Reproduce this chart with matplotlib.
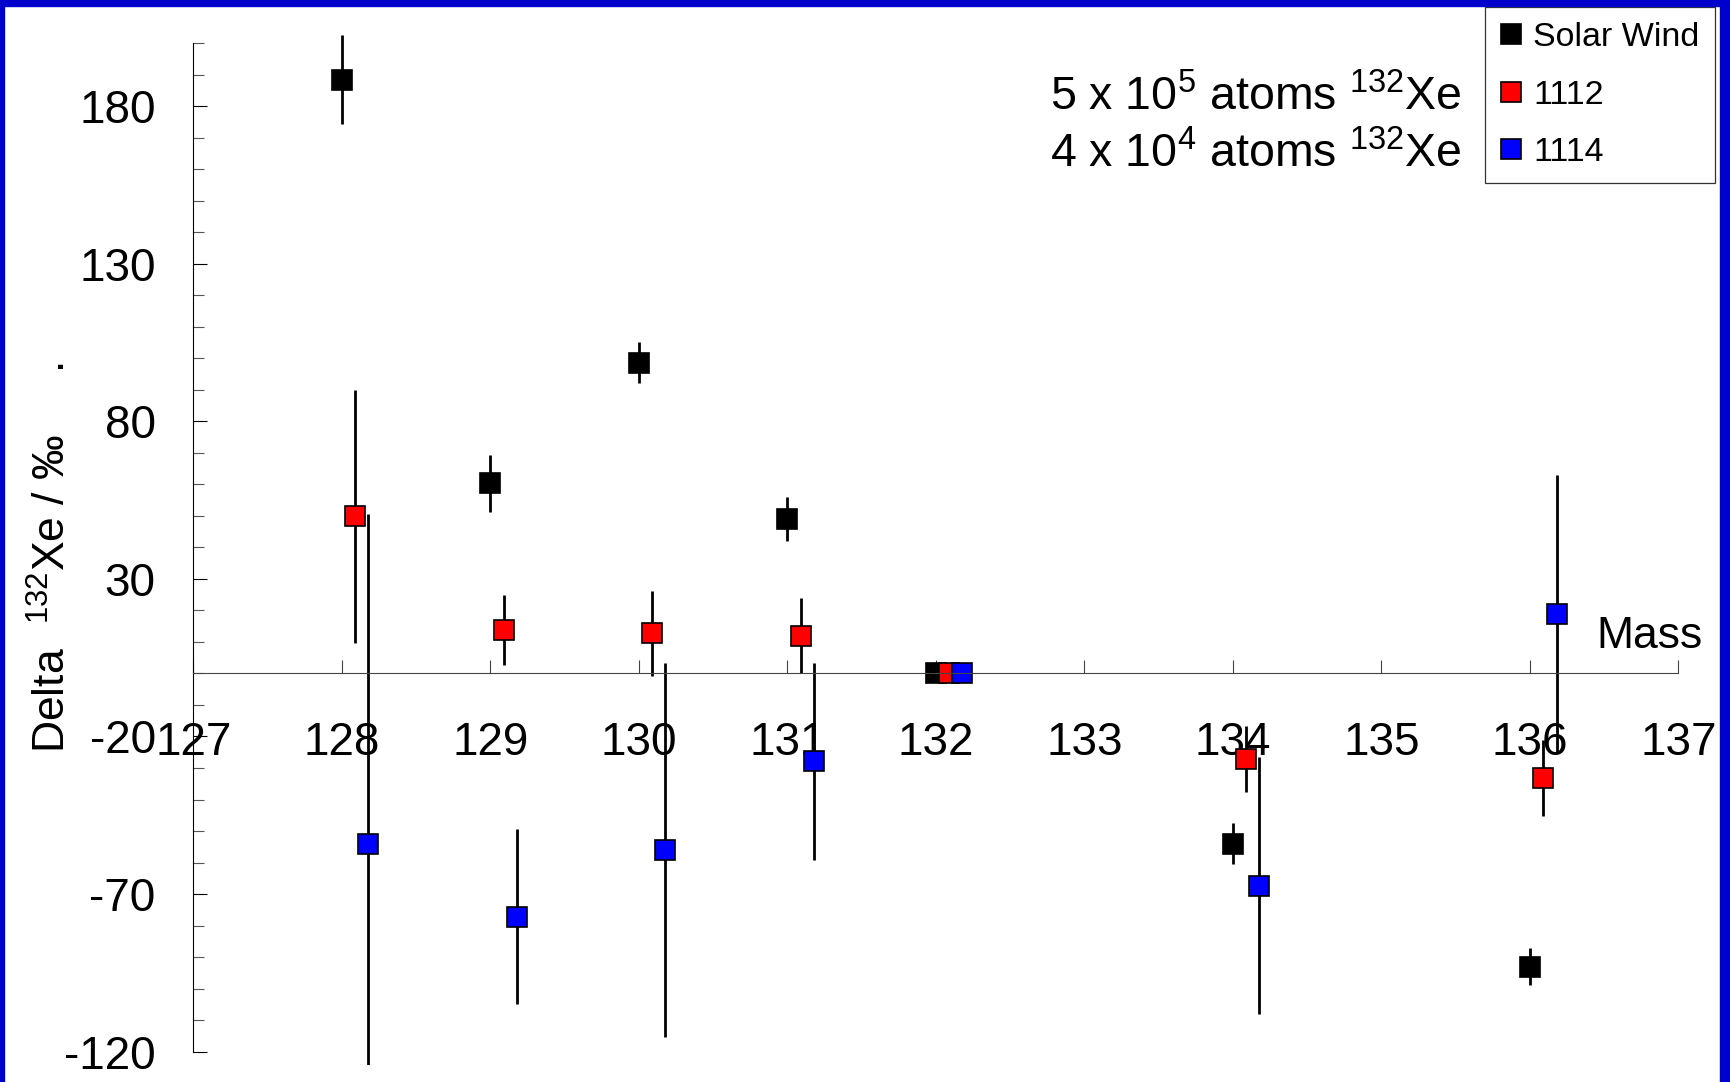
import matplotlib
matplotlib.use('Agg')
import matplotlib.pyplot as plt
from matplotlib.lines import Line2D
from matplotlib.patches import Rectangle
from matplotlib.ticker import FixedLocator

plt.rcParams['font.family'] = ['Liberation Sans', 'DejaVu Sans']
plt.rcParams['mathtext.fontset'] = 'custom'
plt.rcParams['mathtext.rm'] = 'Liberation Sans'
plt.rcParams['mathtext.it'] = 'Liberation Sans:italic'
plt.rcParams['mathtext.default'] = 'regular'
plt.rcParams['axes.unicode_minus'] = False

#-------------------------------------------------------------------------
# xenon isotope deltas (permil, relative to 132Xe)
#-------------------------------------------------------------------------
masses = [128, 129, 130, 131, 132, 134, 136]

solar_wind = [188.4, 60.3, 98.5, 49.1, 0.0, -54.1, -93.0]
solar_wind_err = [14.0, 9.0, 6.5, 7.0, 0.0, 6.5, 6.0]

xe_1112 = [49.8, 13.8, 12.7, 12.0, 0.0, -27.2, -33.1]
xe_1112_err = [40.0, 11.0, 13.5, 12.0, 0.0, 10.5, 12.0]

xe_1114 = [-54.1, -77.2, -55.9, -27.9, 0.0, -67.4, 19.0]
xe_1114_err = [104.6, 27.8, 59.3, 31.3, 0.0, 40.8, 44.0]

series_names = ['Solar Wind', '1112', '1114']
notes = ['5 x 10$^5$ atoms $^{132}$Xe', '4 x 10$^4$ atoms $^{132}$Xe']

W, H = 1730, 1082
fig = plt.figure(figsize=(W / 100, H / 100), dpi=100)
ax = fig.add_axes([0.1117, 0.0158, 0.8584, 0.9561])

series = [
    (solar_wind, solar_wind_err, 'black', 0.0),
    (xe_1112, xe_1112_err, '#ff0000', 0.09),
    (xe_1114, xe_1114_err, '#0000ff', 0.18),
]
handles = []
for (vals, errs, col, shift), name in zip(series, series_names):
    xs = [m + shift for m in masses]
    ax.errorbar(xs, vals, yerr=errs, fmt='s', ms=14.5, mfc=col, mec='black',
                mew=1.2, ecolor='black', elinewidth=2, capsize=0)
    handles.append(Line2D([], [], ls='none', marker='s', ms=14.5, mfc=col,
                          mec='black', mew=1.2, label=name))

ax.set_xlim(127, 137)
ax.set_ylim(-124.2, 204)

# axes: only a left spine and a mass axis through zero
for side in ['top', 'right']:
    ax.spines[side].set_visible(False)
ax.spines['left'].set_bounds(-120, 200)
ax.spines['left'].set_linewidth(0.8)
ax.spines['bottom'].set_position(('data', 0))
ax.spines['bottom'].set_bounds(127, 137)
ax.spines['bottom'].set_color('#444444')
ax.spines['bottom'].set_linewidth(0.8)

ax.set_xticks(range(127, 138))
ax.set_yticks(range(-120, 181, 50))
ax.yaxis.set_minor_locator(FixedLocator(range(-120, 201, 10)))
ax.tick_params(axis='x', direction='in', length=9.5, width=0.8, color='#444444',
               labelsize=33, pad=34)
ax.tick_params(axis='y', which='major', direction='in', length=10, width=0.8,
               labelsize=33, pad=27)
ax.tick_params(axis='y', which='minor', direction='in', length=8, width=0.8,
               color='#555555')

ax.text(136.45, 8, 'Mass', fontsize=32, va='baseline', ha='left')

fig.text(53 / W, 1 - 558 / H, 'Delta  $^{132}$Xe / \u2030     .', rotation=90,
         ha='center', va='center', fontsize=32)

for i, note in enumerate(notes):
    fig.text(1050 / W, 1 - (110 + 57 * i) / H, note, fontsize=33.5,
             ha='left', va='baseline')

leg = fig.legend(handles=handles, loc='upper right',
                 bbox_to_anchor=(1715 / W, 1 - 6.7 / H), borderaxespad=0,
                 fontsize=24.5, handlelength=0.6, handletextpad=0.37,
                 labelspacing=0.78, borderpad=0.45, fancybox=False,
                 framealpha=1, edgecolor='#333333')
leg.get_frame().set_linewidth(0.9)

# slide frame around the chart
blue = '#0000cc'
fig.patches.append(Rectangle((0, 1 - 6 / H), 1, 6 / H, transform=fig.transFigure,
                             color=blue, zorder=10))
fig.patches.append(Rectangle((0, 0), 4 / W, 1, transform=fig.transFigure,
                             color=blue, zorder=10))
fig.patches.append(Rectangle((1 - 10 / W, 0), 10 / W, 1, transform=fig.transFigure,
                             color=blue, zorder=10))

fig.savefig('out.png', dpi=100)
